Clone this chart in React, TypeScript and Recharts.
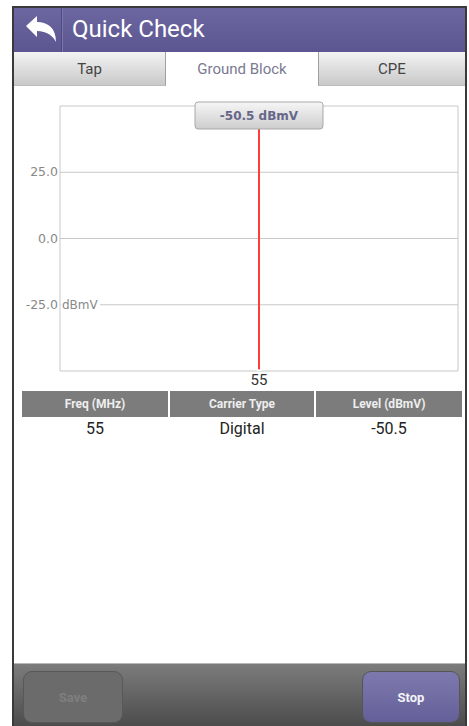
import React from 'react';
import { ComposedChart, Line, XAxis, YAxis, CartesianGrid, ReferenceLine } from 'recharts';

const freqs = [55];
const levels = [-50.5];
const carrierTypes = ['Digital'];
const yTicks = [-50, -25, 0, 25, 50];
const xTicks = [50, 55, 60];
const tableHeaders = ['Freq (MHz)', 'Carrier Type', 'Level (dBmV)'];
const tabs = ['Tap', 'Ground Block', 'CPE'];
const unit = 'dBmV';

const data = freqs.map((f, i) => ({ freq: f, level: levels[i] }));

const YTick = (props: any) => {
  const { x, y, payload } = props;
  const v = payload.value;
  if (v === 50 || v === -50) return null;
  return (
    <g>
      <text x={x} y={y} dy={4} textAnchor="end" fontSize={12.5} fill="#888" fontFamily="DejaVu Sans">
        {v.toFixed(1)}
      </text>
      {v === -25 && (
        <g>
          <rect x={61} y={y - 6} width={39} height={12} fill="#fff" />
          <text x={62} y={y} dy={4} fontSize={12} fill="#888" fontFamily="DejaVu Sans">{unit}</text>
        </g>
      )}
    </g>
  );
};

const XTick = (props: any) => {
  const { x, y, payload } = props;
  if (payload.value !== freqs[0]) return null;
  return (
    <text x={x} y={y} dy={14} textAnchor="middle" fontSize={15} fill="#333" fontFamily="Roboto">
      {payload.value}
    </text>
  );
};

const MarkerLabel = (props: any) => {
  const vb = props.viewBox || {};
  const cx = vb.x;
  const top = vb.y;
  return (
    <g>
      <defs>
        <linearGradient id="mk" x1="0" y1="0" x2="0" y2="1">
          <stop offset="0" stopColor="#f6f6f6" />
          <stop offset="1" stopColor="#cdcdcd" />
        </linearGradient>
      </defs>
      <rect x={cx - 64} y={top - 4} width={128} height={27} rx={3} fill="url(#mk)" stroke="#a9a9a9" />
      <text x={cx} y={top + 10} dy={4} textAnchor="middle" fontSize={12} fontWeight="bold" fill="#66668a" fontFamily="DejaVu Sans">
        {`${levels[0].toFixed(1)} ${unit}`}
      </text>
    </g>
  );
};

const BackArrow = () => (
  <svg width={34} height={30} style={{ position: 'absolute', left: 24, top: 15 }} viewBox="0 0 34 30">
    <path d="M2 11 L13 1 L13 7 C24 7 32 13 32 27 C29 21 23 16 13 16 L13 22 Z" fill="#ffffff" />
  </svg>
);

export default function App() {
  const font = 'Roboto, sans-serif';
  return (
    <div style={{ position: 'absolute', left: 0, top: 0, width: 469, height: 726, background: '#fff', overflow: 'hidden', fontFamily: font }}>
      {/* frame */}
      <div style={{ position: 'absolute', left: 12, top: 6, width: 455, height: 720, background: '#3a3a3a' }} />
      <div style={{ position: 'absolute', left: 14, top: 8, width: 451, height: 718, background: '#fff' }} />
      {/* header */}
      <div style={{ position: 'absolute', left: 14, top: 8, width: 451, height: 44, background: 'linear-gradient(#6c67a1, #5b568f)' }} />
      <div style={{ position: 'absolute', left: 61, top: 8, width: 1, height: 44, background: '#4e4a80' }} />
      <div style={{ position: 'absolute', left: 62, top: 8, width: 1, height: 44, background: '#7a76aa' }} />
      <BackArrow />
      <div style={{ position: 'absolute', left: 72, top: 14, fontSize: 24, color: '#fff', lineHeight: '30px' }}>Quick Check</div>
      {/* tabs */}
      {tabs.map((t, i) => {
        const lefts = [14, 166, 318];
        const widths = [152, 152, 147];
        const sel = i === 1;
        return (
          <div key={t} style={{
            position: 'absolute', left: lefts[i], top: 52, width: widths[i], height: 34,
            background: sel ? '#fff' : 'linear-gradient(#f3f3f3, #c9c9c9)',
            borderRight: i === 0 ? '1px solid #a0a0a0' : 'none',
            borderLeft: i === 2 ? '1px solid #a0a0a0' : 'none',
            borderBottom: sel ? 'none' : '1px solid #bdbdbd',
            boxSizing: 'border-box',
            display: 'flex', alignItems: 'center', justifyContent: 'center',
            fontSize: 15, color: sel ? '#7a7a92' : '#444',
          }}>{t}</div>
        );
      })}
      {/* chart */}
      <div style={{ position: 'absolute', left: 0, top: 95 }}>
        <ComposedChart width={469} height={295} data={data} margin={{ top: 11, right: 11, left: 0, bottom: 0 }}>
          <CartesianGrid stroke="#c8c8c8" strokeWidth={1} horizontal={true} vertical={true} />
          <XAxis dataKey="freq" type="number" domain={[50, 60]} ticks={xTicks} height={19} axisLine={false} tickLine={false} tickSize={0} tickMargin={0} tick={<XTick />} interval={0} />
          <YAxis type="number" domain={[-50, 50]} ticks={yTicks} width={60} axisLine={false} tickLine={false} tickSize={0} tickMargin={2} tick={<YTick />} allowDataOverflow interval={0} />
          <Line dataKey="level" stroke="none" dot={false} isAnimationActive={false} />
          <ReferenceLine x={freqs[0]} stroke="#ff3b3b" strokeWidth={2} label={<MarkerLabel />} />
        </ComposedChart>
      </div>
      {/* table */}
      {tableHeaders.map((h, i) => {
        const lefts = [22, 170, 316];
        const widths = [146, 144, 146];
        return (
          <div key={h} style={{
            position: 'absolute', left: lefts[i], top: 391, width: widths[i], height: 26,
            background: '#7c7c7c', color: '#eeeeee', fontWeight: 'bold', fontSize: 12,
            display: 'flex', alignItems: 'center', justifyContent: 'center',
          }}>{h}</div>
        );
      })}
      {[String(freqs[0]), carrierTypes[0], levels[0].toFixed(1)].map((v, i) => {
        const lefts = [22, 170, 316];
        const widths = [146, 144, 146];
        return (
          <div key={i} style={{
            position: 'absolute', left: lefts[i], top: 419, width: widths[i], height: 20,
            color: '#222', fontSize: 16, textAlign: 'center', lineHeight: '20px',
          }}>{v}</div>
        );
      })}
      {/* bottom bar */}
      <div style={{ position: 'absolute', left: 14, top: 663, width: 451, height: 63, background: 'linear-gradient(#7c7c7c, #4c4c4c)', borderTop: '1px solid #b8b8b8', boxSizing: 'border-box' }} />
      <div style={{
        position: 'absolute', left: 23, top: 671, width: 100, height: 52, borderRadius: 9,
        background: '#6b6b6b', border: '1px solid #585858', boxSizing: 'border-box',
        display: 'flex', alignItems: 'center', justifyContent: 'center',
        color: '#7f7f7f', fontWeight: 'bold', fontSize: 13,
      }}>Save</div>
      <div style={{
        position: 'absolute', left: 362, top: 671, width: 98, height: 52, borderRadius: 9,
        background: 'linear-gradient(#7e79ad, #645f98)', border: '1px solid #555', boxSizing: 'border-box',
        display: 'flex', alignItems: 'center', justifyContent: 'center',
        color: '#f4f4f8', fontWeight: 'bold', fontSize: 13,
      }}>Stop</div>
    </div>
  );
}
